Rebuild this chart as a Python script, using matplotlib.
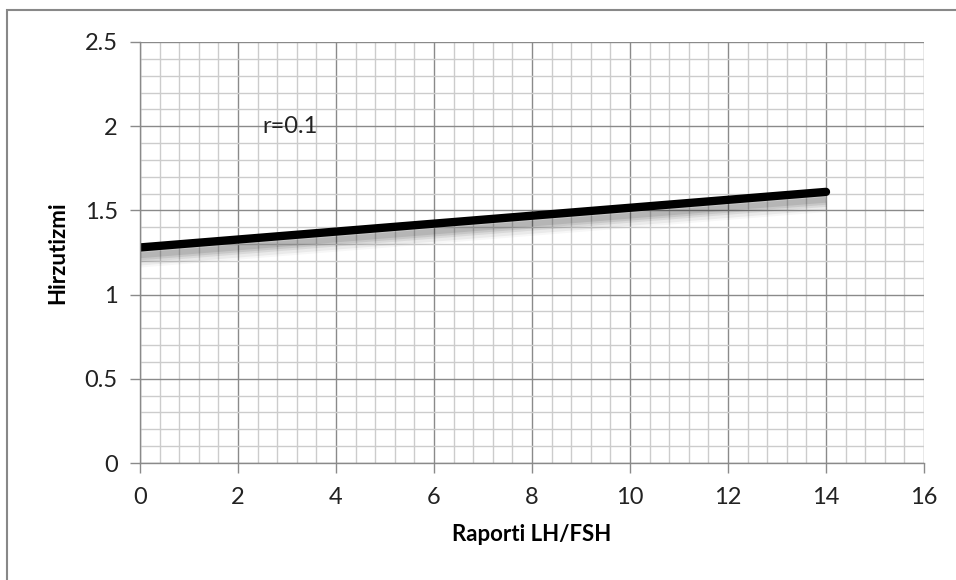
import matplotlib
matplotlib.use("Agg")
import matplotlib.pyplot as plt
from matplotlib.patches import Rectangle
from matplotlib.ticker import MultipleLocator
from matplotlib.transforms import ScaledTranslation

plt.rcParams['font.family'] = ['Lato', 'DejaVu Sans']

# Trend line: Hirzutizmi vs LH/FSH ratio
ratio = [0, 14]
hirsutism = [1.28, 1.61]
x_ticks = [0, 2, 4, 6, 8, 10, 12, 14, 16]
y_ticks = [0, 0.5, 1, 1.5, 2, 2.5]
annotation = "r=0.1"

W, H = 956, 580
fig = plt.figure(figsize=(W / 100, H / 100), dpi=100)
ax = fig.add_axes([140 / W, 1 - 463 / H, (924 - 140) / W, (463 - 42) / H])

major_c = '#8a8a8a'
minor_c = '#cccccc'
text_c = '#222222'

ax.set_xlim(0, 16)
ax.set_ylim(0, 2.5)
ax.set_xticks(x_ticks)
ax.set_yticks(y_ticks)
ax.set_xticklabels([f"{v:g}" for v in x_ticks])
ax.set_yticklabels([f"{v:g}" for v in y_ticks])
ax.xaxis.set_minor_locator(MultipleLocator(0.4))
ax.yaxis.set_minor_locator(MultipleLocator(0.1))
ax.grid(which='minor', color=minor_c, linewidth=1.0)
ax.grid(which='major', color=major_c, linewidth=1.0)
ax.set_axisbelow(True)
ax.tick_params(which='major', length=7, color=major_c, width=1.0,
               labelsize=17, labelcolor=text_c)
ax.tick_params(axis='x', which='major', pad=10)
ax.tick_params(axis='y', which='major', pad=9)
ax.tick_params(which='minor', length=0)
for side in ('top', 'right'):
    ax.spines[side].set_visible(False)
for side in ('left', 'bottom'):
    ax.spines[side].set_color(major_c)
    ax.spines[side].set_linewidth(1.0)

# Soft blurred shadow beneath the trend line
for off, lw, a in [(9, 16, 0.03), (9, 13, 0.05), (8, 10, 0.07),
                   (8, 7, 0.08), (8, 4, 0.09)]:
    shift = ScaledTranslation(0, -off / 100, fig.dpi_scale_trans)
    ax.plot(ratio, hirsutism, color='black', linewidth=lw, alpha=a,
            solid_capstyle='butt', transform=ax.transData + shift)
ax.plot(ratio, hirsutism, color='black', linewidth=6, solid_capstyle='round')

ax.text(2.5, 2.0, annotation, fontsize=17, color=text_c, va='center', ha='left')

ax.set_xlabel("Raporti LH/FSH", fontsize=16, fontweight='bold', labelpad=12)
ax.set_ylabel("Hirzutizmi", fontsize=16, fontweight='bold', labelpad=12)

fig.patches.append(Rectangle((7 / W, -0.05), 1.2, (1 - 10 / H) + 0.05,
                             transform=fig.transFigure, fill=False,
                             edgecolor='#888888', linewidth=1.5))

fig.savefig("out.png", dpi=100)
